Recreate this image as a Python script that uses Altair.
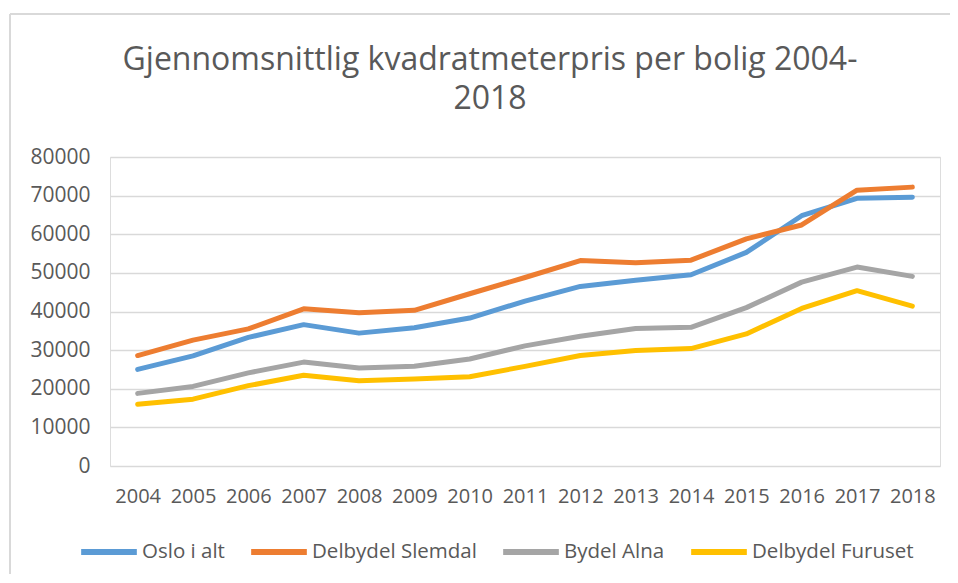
import altair as alt
import pandas as pd

years = [str(y) for y in range(2004, 2019)]
series_names = ["Oslo i alt", "Delbydel Slemdal", "Bydel Alna", "Delbydel Furuset"]
oslo = [25000, 28500, 33300, 36600, 34400, 35800, 38300, 42700, 46500, 48100, 49500, 55300, 64800, 69300, 69600]
slemdal = [28600, 32600, 35500, 40700, 39700, 40300, 44600, 48800, 53200, 52600, 53300, 58800, 62400, 71400, 72200]
alna = [18800, 20600, 24100, 26900, 25400, 25800, 27700, 31100, 33600, 35600, 35900, 41000, 47600, 51500, 49100]
furuset = [16000, 17300, 20800, 23500, 22100, 22500, 23100, 25800, 28600, 29900, 30400, 34200, 40800, 45400, 41400]
colors = ["#5B9BD5", "#ED7D31", "#A5A5A5", "#FFC000"]
y_ticks = [0, 10000, 20000, 30000, 40000, 50000, 60000, 70000, 80000]

rows = []
for name, vals in zip(series_names, [oslo, slemdal, alna, furuset]):
    for yr, v in zip(years, vals):
        rows.append({"year": yr, "serie": name, "pris": v, "order": series_names.index(name)})
df = pd.DataFrame(rows)

FONT = "Open Sans"
TXT = "#595959"

lines = alt.Chart(df).mark_line(strokeWidth=5, strokeCap="round", strokeJoin="round").encode(
    x=alt.X("year:O", title=None,
            axis=alt.Axis(labelAngle=0, domain=False, ticks=False, labelPadding=20,
                          labelFontSize=20, labelColor=TXT, labelFont=FONT, grid=False)),
    y=alt.Y("pris:Q", title=None,
            scale=alt.Scale(domain=[0, 80000], nice=False),
            axis=alt.Axis(values=y_ticks, domain=False, ticks=False, labelPadding=20,
                          labelFontSize=21, labelColor=TXT, labelFont=FONT, format="d",
                          grid=True, gridColor="#D9D9D9", gridWidth=1.5)),
    color=alt.Color("serie:N", sort=series_names,
                    scale=alt.Scale(domain=series_names, range=colors),
                    legend=alt.Legend(title=None, orient="none", direction="horizontal",
                                      legendX=-32, legendY=364,
                                      symbolType="stroke", symbolStrokeWidth=6,
                                      symbolSize=3100, labelFontSize=20.5, labelColor=TXT,
                                      labelFont=FONT, labelOffset=2, columnPadding=14,
                                      labelLimit=400)),
    order="order:Q",
)

border_top = alt.Chart(df).mark_rule(color="#D9D9D9", strokeWidth=1.5).encode(
    x=alt.value(-100), x2=alt.value(840), y=alt.value(-143)
)
border_left = alt.Chart(df).mark_rule(color="#D9D9D9", strokeWidth=1.5).encode(
    x=alt.value(-100), y=alt.value(-143), y2=alt.value(420)
)

chart = alt.layer(border_top, border_left, lines).properties(
    width=830,
    height=309,
    autosize=alt.AutoSizeParams(type="none"),
    padding={"left": 102, "top": 149, "right": 10, "bottom": 108},
    title=alt.Title(
        ["Gjennomsnittlig kvadratmeterpris per bolig 2004-", "2018"],
        fontSize=32, font=FONT, fontWeight="normal", color=TXT,
        anchor="middle", frame="group", dx=-35, offset=-103, lineHeight=39,
    ),
).configure_view(stroke=None).configure(background="white")

chart.save("out.html", embed_options={"renderer": "svg", "actions": False})
